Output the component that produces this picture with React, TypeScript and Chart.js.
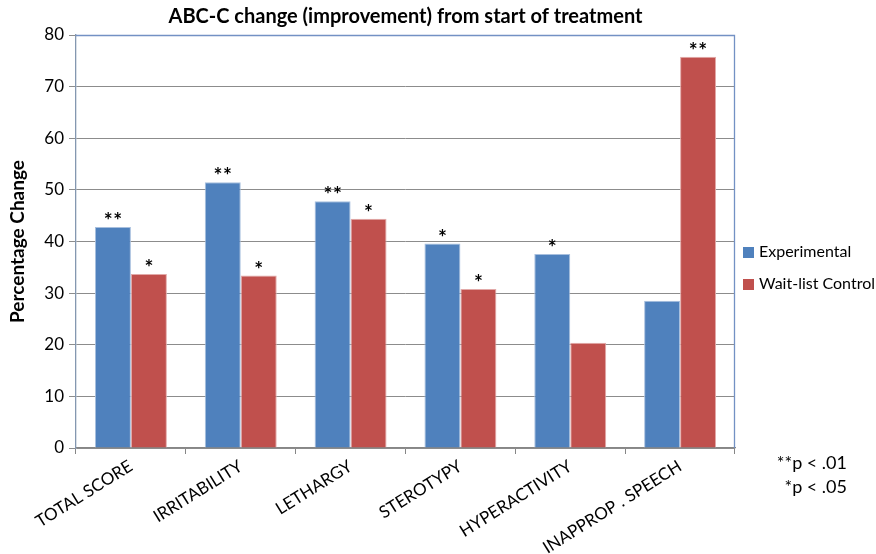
import React, { useEffect, useRef } from 'react';
import { Chart, registerables } from 'chart.js';

Chart.register(...registerables);

const categories = ['TOTAL SCORE', 'IRRITABILITY', 'LETHARGY', 'STEROTYPY', 'HYPERACTIVITY', 'INAPPROP . SPEECH'];
const experimental = [42.8, 51.5, 47.8, 39.6, 37.6, 28.5];
const waitlist = [33.7, 33.4, 44.4, 30.8, 20.4, 75.8];
const expSig = ['**', '**', '**', '*', '*', ''];
const waitSig = ['*', '*', '*', '*', '', '**'];
const seriesNames = ['Experimental', 'Wait-list Control'];
const footnotes = ['**p < .01', '*p < .05'];
const titleText = 'ABC-C change (improvement) from start of treatment';
const yTitle = 'Percentage Change';

const BLUE = '#4F81BD';
const RED = '#C0504D';
const FONT = 'Lato, "Open Sans", sans-serif';

export default function App() {
  const ref = useRef<HTMLCanvasElement | null>(null);
  useEffect(() => {
    if (!ref.current) return;
    const deco = {
      id: 'deco',
      afterDatasetsDraw(chart: any) {
        const ctx = chart.ctx;
        const a = chart.chartArea;
        ctx.save();
        // significance stars
        ctx.fillStyle = '#000';
        ctx.font = `bold 21px ${FONT}`;
        ctx.textAlign = 'center';
        ctx.textBaseline = 'alphabetic';
        [expSig, waitSig].forEach((sig, di) => {
          const meta = chart.getDatasetMeta(di);
          meta.data.forEach((bar: any, i: number) => {
            const n = sig[i].length;
            for (let k = 0; k < n; k++) {
              ctx.fillText('*', bar.x + (k - (n - 1) / 2) * 9.5, bar.y + 1);
            }
          });
        });
        // border top & right
        ctx.strokeStyle = '#7391C4';
        ctx.lineWidth = 1.3;
        ctx.beginPath();
        ctx.moveTo(a.left, a.top + 0.5);
        ctx.lineTo(a.right - 0.5, a.top + 0.5);
        ctx.lineTo(a.right - 0.5, a.bottom);
        ctx.stroke();
        // title
        ctx.font = `bold 20px ${FONT}`;
        ctx.textAlign = 'center';
        ctx.fillText(titleText, (a.left + a.right) / 2, 23);
        // legend
        const colors = [BLUE, RED];
        ctx.font = `16px ${FONT}`;
        ctx.textAlign = 'left';
        ctx.textBaseline = 'middle';
        seriesNames.forEach((n, i) => {
          const cy = 252 + i * 32;
          ctx.fillStyle = colors[i];
          ctx.fillRect(743, cy - 5, 11, 11);
          ctx.fillStyle = '#000';
          ctx.fillText(n, 759, cy);
        });
        // footnotes
        ctx.font = `18px ${FONT}`;
        ctx.textAlign = 'right';
        footnotes.forEach((f, i) => {
          ctx.fillText(f, 847, 463 + i * 24);
        });
        ctx.restore();
      },
    };
    const chart = new Chart(ref.current, {
      type: 'bar',
      data: {
        labels: categories,
        datasets: [
          { label: seriesNames[0], data: experimental, backgroundColor: BLUE, borderColor: '#A7BFDE', borderWidth: 1, categoryPercentage: 0.655, barPercentage: 1 },
          { label: seriesNames[1], data: waitlist, backgroundColor: RED, borderColor: '#E2A9A8', borderWidth: 1, categoryPercentage: 0.655, barPercentage: 1 },
        ],
      },
      options: {
        responsive: false,
        animation: false,
        layout: { padding: { top: 35, right: 141, left: 0, bottom: 0 } },
        plugins: { legend: { display: false }, title: { display: false }, tooltip: { enabled: false } },
        scales: {
          x: {
            afterFit: (s: any) => { s.height = 106; },
            grid: { drawOnChartArea: false, drawTicks: true, tickLength: 6, offset: true, color: '#868686' },
            border: { color: '#868686', width: 1.3 },
            ticks: { color: '#000', font: { family: FONT, size: 17 }, minRotation: 32, maxRotation: 32, padding: 2, autoSkip: false },
          },
          y: {
            min: 0,
            max: 80,
            afterFit: (s: any) => { s.width = 76; },
            grid: { color: '#8C8C8C', tickLength: 7, lineWidth: 1 },
            border: { color: '#8497B0', width: 1.3 },
            ticks: { stepSize: 10, color: '#000', font: { family: FONT, size: 17 }, padding: 5 },
            title: { display: true, text: yTitle, color: '#000', font: { family: FONT, size: 19, weight: 'bold' }, padding: { top: 6, bottom: 4 } },
          },
        },
      },
      plugins: [deco],
    });
    return () => chart.destroy();
  }, []);
  return (
    <div style={{ position: 'absolute', left: 0, top: 0, width: 876, height: 554, background: '#fff' }}>
      <canvas ref={ref} width={876} height={554} style={{ display: 'block' }} />
    </div>
  );
}
